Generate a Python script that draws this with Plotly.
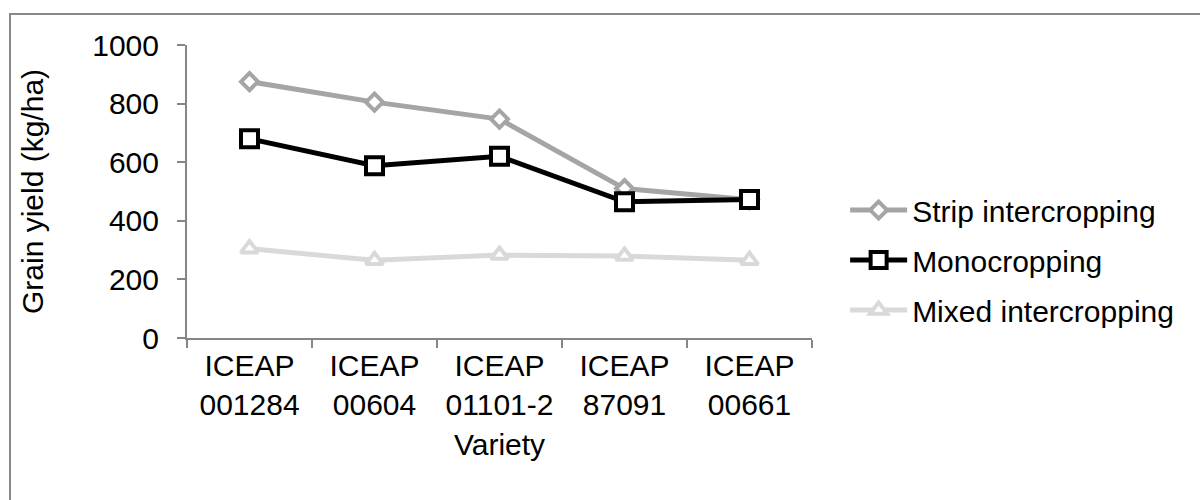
import plotly.graph_objects as go

# Varieties (two-line category labels) and grain yield per cropping system, kg/ha
varieties = ["ICEAP<br>001284", "ICEAP<br>00604", "ICEAP<br>01101-2", "ICEAP<br>87091", "ICEAP<br>00661"]
strip_intercropping = [875, 805, 747, 510, 472]
monocropping = [680, 588, 620, 465, 473]
mixed_intercropping = [305, 265, 283, 280, 265]

y_ticks = [0, 200, 400, 600, 800, 1000]

FONT = "Arial, Liberation Sans, sans-serif"
FS = 30

fig = go.Figure()

series = [
    ("Strip intercropping", strip_intercropping, "#A5A5A5", "diamond", 13),
    ("Monocropping", monocropping, "#000000", "square", 17),
    ("Mixed intercropping", mixed_intercropping, "#D9D9D9", "triangle-up", 15),
]
for i, (name, vals, color, symbol, size) in enumerate(series):
    fig.add_trace(go.Scatter(
        x=varieties, y=vals, name=name, mode="lines+markers",
        legendgroup=f"g{i}",
        line=dict(color=color, width=5),
        marker=dict(symbol=symbol, size=size, color="white",
                    line=dict(color=color, width=4)),
    ))

# Outer chart frame
fig.add_shape(type="rect", xref="paper", yref="paper",
              x0=-0.2832, x1=1.64, y0=-0.6, y1=1.1058,
              line=dict(color="#888888", width=2), fillcolor="rgba(0,0,0,0)",
              layer="below")

fig.update_layout(
    width=1200, height=500,
    margin=dict(l=187, r=388, t=45, b=162),
    paper_bgcolor="white", plot_bgcolor="white",
    font=dict(family=FONT, size=FS, color="black"),
    showlegend=True,
    legend=dict(x=1.053, xanchor="left", y=0.266, yanchor="middle",
                font=dict(family=FONT, size=FS, color="black"),
                tracegroupgap=8, itemwidth=57,
                bgcolor="rgba(0,0,0,0)"),
    xaxis=dict(
        type="category", range=[-0.5, 4.5],
        showline=True, linecolor="#868686", linewidth=2,
        ticks="outside", ticklen=8, tickcolor="#868686", tickwidth=2,
        tickson="boundaries", showgrid=False, zeroline=False,
        tickfont=dict(family=FONT, size=FS, color="black"),
        title=dict(text="Variety", font=dict(family=FONT, size=FS, color="black"), standoff=14),
    ),
    yaxis=dict(
        range=[0, 1000], tickvals=y_ticks,
        showline=True, linecolor="#868686", linewidth=2,
        ticks="outside", ticklen=8, tickcolor="#868686", tickwidth=2,
        showgrid=False, zeroline=False, ticklabelstandoff=12,
        tickfont=dict(family=FONT, size=FS, color="black"),
        title=dict(text="Grain yield (kg/ha)", font=dict(family=FONT, size=FS, color="black"), standoff=40),
    ),
)

fig.write_html("out.html")
